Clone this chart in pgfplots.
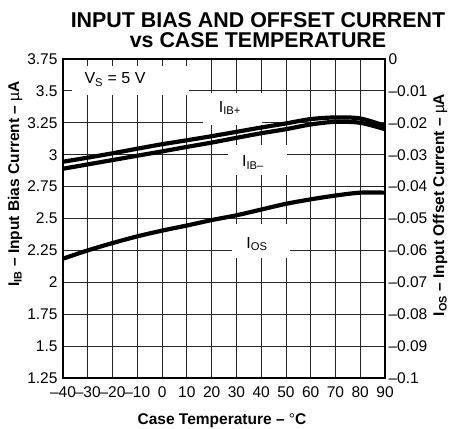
\documentclass[border=0pt]{standalone}
\usepackage{pgfplots}
\pgfplotsset{compat=1.18}
\usepackage{pgfplotstable}
\usepackage{fontspec}
\setmainfont{Liberation Sans}

% IB+ and IB- in uA (left axis), IOS in uA (right axis)
\pgfplotstableread{
T    ibp    ibm
-40  2.945  2.890
-30  2.977  2.924
-20  3.011  2.958
-10  3.047  2.992
0    3.082  3.026
10   3.113  3.061
20   3.145  3.095
30   3.179  3.132
40   3.213  3.168
50   3.245  3.200
60   3.279  3.237
70   3.292  3.258
80   3.284  3.250
90   3.226  3.200
}\ibdata

\pgfplotstableread{
T    ios
-40  -0.0626
-30  -0.0600
-20  -0.0577
-10  -0.0556
0    -0.0538
10   -0.0522
20   -0.0505
30   -0.0490
40   -0.0472
50   -0.0454
60   -0.0440
70   -0.0428
80   -0.0419
90   -0.0419
}\iosdata

\newcommand{\tickfont}{\fontsize{15.5bp}{17bp}\selectfont}
\newcommand{\txtfont}{\fontsize{16bp}{18bp}\selectfont}
\newcommand{\labfont}{\fontsize{15.5bp}{18bp}\selectfont\bfseries}

\begin{document}
\begin{tikzpicture}
\useasboundingbox (-63bp,-51bp) rectangle (388bp,378bp);

\begin{axis}[
  scale only axis, width=322bp, height=319bp,
  xmin=-40, xmax=90, ymin=1.25, ymax=3.75,
  xtick={-40,-30,...,90},
  xticklabels={–40,–30,–20,–10,0,10,20,30,40,50,60,70,80,90},
  ytick={1.25,1.5,...,3.75},
  yticklabels={1.25,1.5,1.75,2,2.25,2.5,2.75,3,3.25,3.5,3.75},
  major tick length=0pt,
  tick label style={font=\tickfont},
  xticklabel style={yshift=-5bp},
  yticklabel style={xshift=-2bp},
  grid=major,
  major grid style={black!85, line width=0.8bp},
  axis line style={line width=2bp},
]
  \fill[white] (axis cs:-36.5,3.47) rectangle (axis cs:11,3.695);
  \fill[white] (axis cs:16.5,3.235) rectangle (axis cs:40.3,3.48);
  \fill[white] (axis cs:26.6,2.84) rectangle (axis cs:50.4,3.075);
  \fill[white] (axis cs:28.2,2.19) rectangle (axis cs:51.6,2.46);
  \node[font=\txtfont] at (axis cs:-19,3.59) {V\textsubscript{S} = 5 V};
  \node[font=\txtfont] at (axis cs:27.4,3.366) {I\textsubscript{IB+}};
  \node[font=\txtfont] at (axis cs:36.7,2.94) {I\textsubscript{IB–}};
  \node[font=\txtfont] at (axis cs:38.3,2.30) {I\textsubscript{OS}};
  \addplot[black, line width=4.2bp, smooth] table[x=T, y=ibp] {\ibdata};
  \addplot[black, line width=4.2bp, smooth] table[x=T, y=ibm] {\ibdata};
\end{axis}

\begin{axis}[
  scale only axis, width=322bp, height=319bp,
  xmin=-40, xmax=90, ymin=-0.1, ymax=0,
  axis x line=none,
  axis y line*=right,
  ytick={-0.1,-0.09,-0.08,-0.07,-0.06,-0.05,-0.04,-0.03,-0.02,-0.01,0},
  yticklabels={–0.1,–0.09,–0.08,–0.07,–0.06,–0.05,–0.04,–0.03,–0.02,–0.01,0},
  major tick length=0pt,
  tick label style={font=\tickfont},
  axis line style={line width=2bp},
]
  \addplot[black, line width=4.2bp, smooth] table[x=T, y=ios] {\iosdata};
\end{axis}

\node[font=\fontsize{21.4bp}{20bp}\selectfont\bfseries, anchor=base] at (195bp,350bp) {INPUT BIAS AND OFFSET CURRENT};
\node[font=\fontsize{21.4bp}{20bp}\selectfont\bfseries, anchor=base] at (195bp,330bp) {vs CASE TEMPERATURE};
\node[font=\labfont, anchor=base] at (159bp,-46bp) {Case Temperature – {\mdseries °}C};
\node[font=\labfont, rotate=90] at (-48bp,194bp) {I\textsubscript{IB} – Input Bias Current – {\mdseries µ}A};
\node[font=\labfont, rotate=90] at (377bp,173bp) {I\textsubscript{OS} – Input Offset Current – {\mdseries µ}A};
\end{tikzpicture}
\end{document}
